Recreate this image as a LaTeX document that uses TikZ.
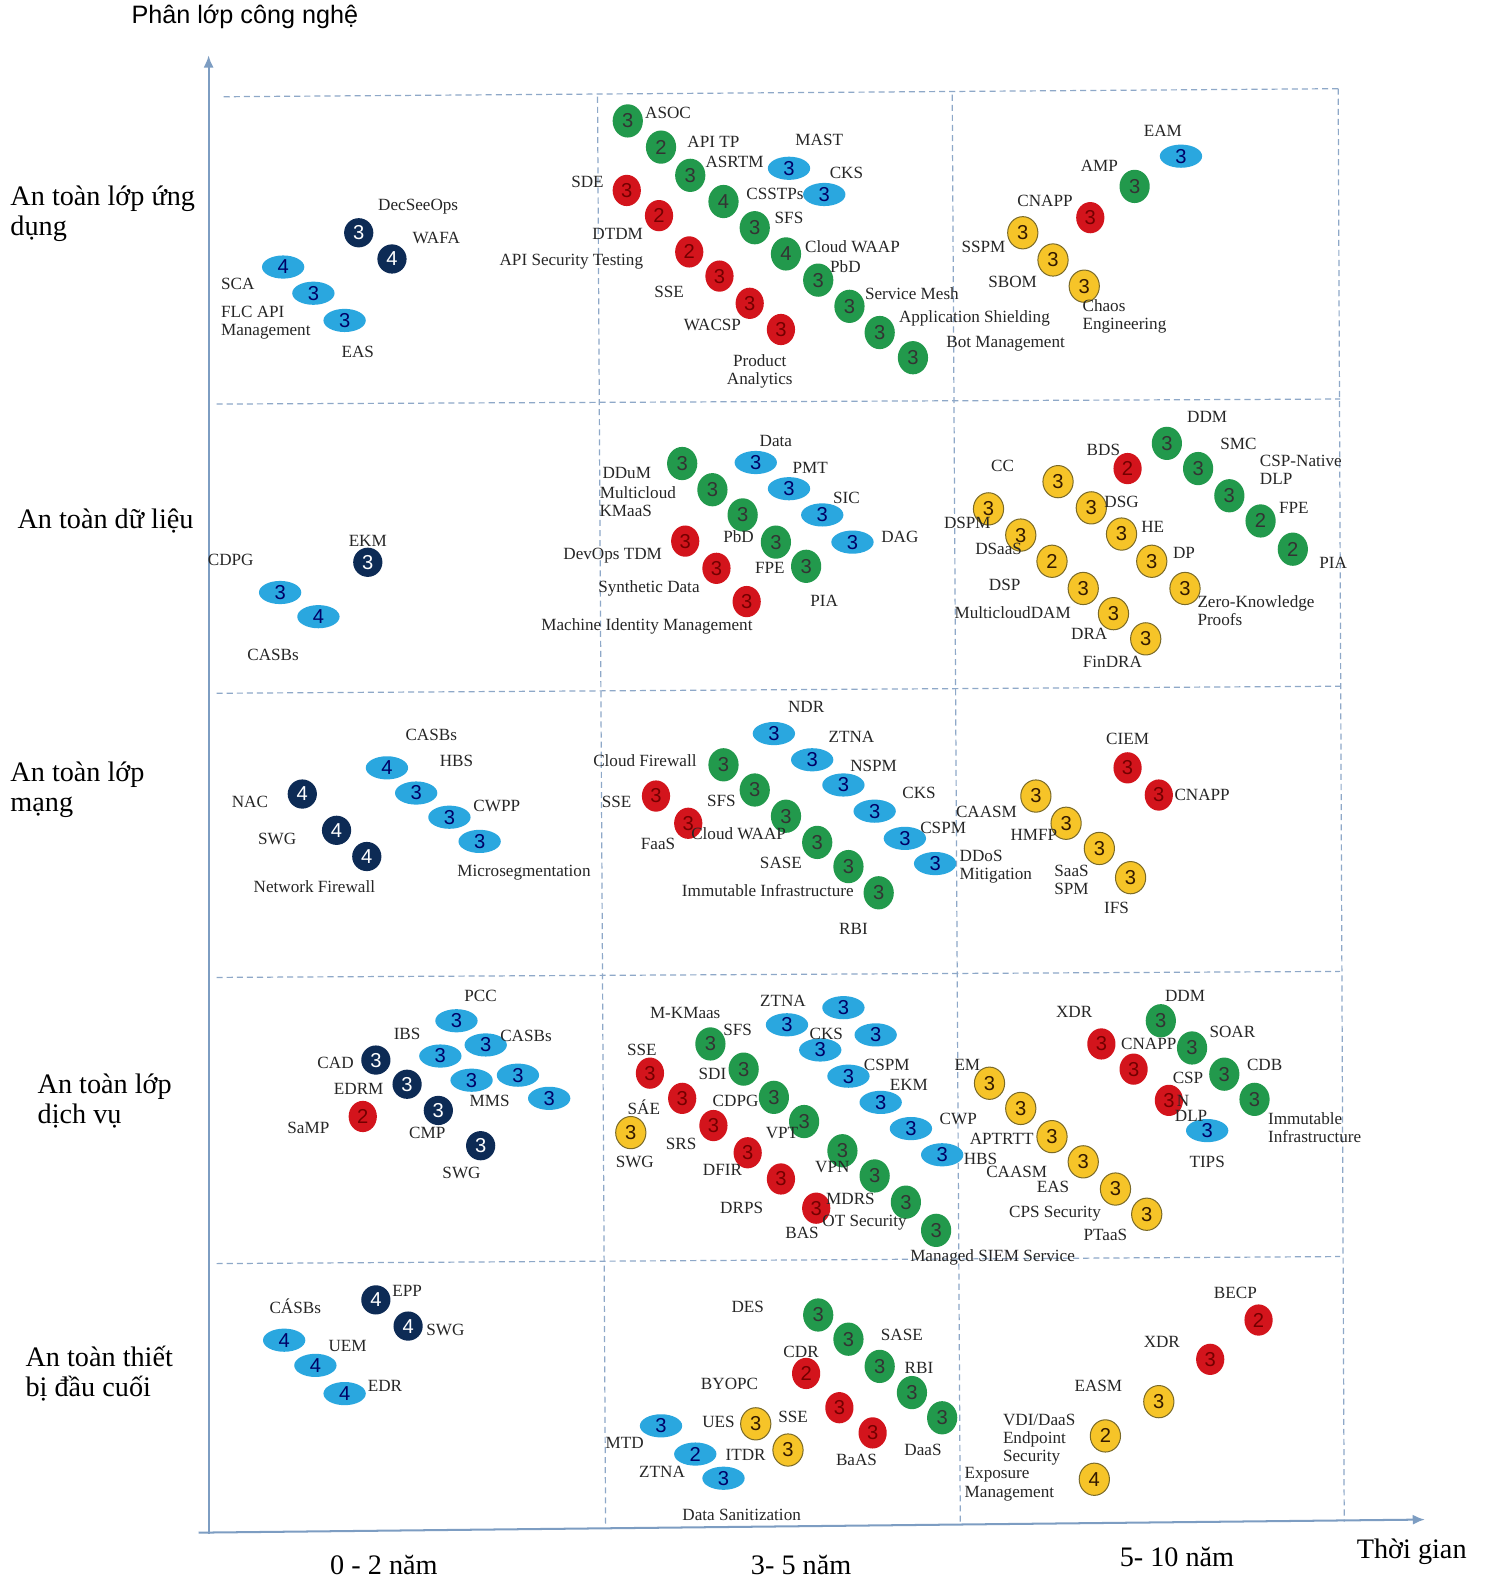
\documentclass[tikz,border=0pt]{standalone}
\usepackage{fontspec}
\setmainfont{Liberation Serif}
\newfontfamily\numfont{Liberation Sans}
\usetikzlibrary{arrows.meta, shapes.geometric}

\definecolor{bgreen}{HTML}{22994C}
\definecolor{bred}{HTML}{D3141C}
\definecolor{byellow}{HTML}{F6C428}
\definecolor{yedge}{HTML}{7A6A28}
\definecolor{bblue}{HTML}{2AA7DF}
\definecolor{bnavy}{HTML}{0D2B55}
\definecolor{gridc}{HTML}{8EA8C8}
\definecolor{axisc}{HTML}{7D9DC2}

\begin{document}
\begin{tikzpicture}[x=0.5pt, y=-0.5pt,
    lbl/.style={font=\fontsize{8.5}{9}\selectfont, text=black!85, inner sep=0pt},
    lblm/.style={lbl, align=left, anchor=west},
    rowlbl/.style={font=\fontsize{14}{15}\selectfont, align=left, anchor=west, inner sep=0pt},
    collbl/.style={font=\fontsize{14}{15}\selectfont, inner sep=0pt},
    bub/.style={ellipse, inner sep=0pt, font=\numfont\fontsize{10}{10}\selectfont},
    gb/.style={bub, fill=bgreen, text=black!80, minimum width=15pt, minimum height=16.5pt},
    rb/.style={bub, fill=bred, text=red!45!black, minimum width=14pt, minimum height=15.5pt},
    yb/.style={bub, fill=byellow, draw=yedge, line width=0.5pt, text=black!80!orange, minimum width=15pt, minimum height=16pt},
    bb/.style={bub, fill=bblue, text=blue!40!black, minimum width=21pt, minimum height=11.5pt},
    nb/.style={bub, fill=bnavy, text=white, minimum width=14.5pt, minimum height=14.5pt},
    gridln/.style={draw=gridc, line width=0.6pt, dash pattern=on 3pt off 2pt},
    axis/.style={draw=axisc, line width=1pt, -{Latex[length=6pt, width=5pt]}}]

\fill[white] (0,0) rectangle (1476,1568);
\useasboundingbox (0,0) rectangle (1476,1568);

% grid
\coordinate (h1a) at (222,96);  \coordinate (h1b) at (1330,88);
\coordinate (h2a) at (215,401); \coordinate (h2b) at (1330,396);
\coordinate (h3a) at (215,688); \coordinate (h3b) at (1330,681);
\coordinate (h4a) at (215,970); \coordinate (h4b) at (1330,964);
\coordinate (h5a) at (215,1254); \coordinate (h5b) at (1330,1247);
\coordinate (v1a) at (593,96);  \coordinate (v1b) at (601,1512);
\coordinate (v2a) at (945,94);  \coordinate (v2b) at (953,1512);
\coordinate (v3a) at (1328,88); \coordinate (v3b) at (1334,1510);
\draw[gridln] (h1a) -- (h1b);
\draw[gridln] (h2a) -- (h2b);
\draw[gridln] (h3a) -- (h3b);
\draw[gridln] (h4a) -- (h4b);
\draw[gridln] (h5a) -- (h5b);
\draw[gridln] (v1a) -- (v1b);
\draw[gridln] (v2a) -- (v2b);
\draw[gridln] (v3a) -- (v3b);

% axes
\coordinate (ybot) at (207,1522);
\coordinate (ytop) at (207,55);
\coordinate (xleft) at (197,1521);
\coordinate (xright) at (1414,1508);
\draw[axis] (ybot) -- (ytop);
\draw[axis] (xleft) -- (xright);

\node[font=\numfont\fontsize{12.5}{13}\selectfont, inner sep=0pt] (ytitle) at (243,17) {Phân lớp công nghệ};
\node[collbl] (xtitle) at (1401,1540) {Thời gian};
\node[collbl] (c1) at (381,1553) {0 - 2 năm};
\node[collbl] (c2) at (795,1553) {3- 5 năm};
\node[collbl] (c3) at (1168,1545) {5- 10 năm};

\node[rowlbl] (r1) at (10,212) {An toàn lớp ứng\\dụng};
\node[rowlbl] (r2) at (17,517) {An toàn dữ liệu};
\node[rowlbl] (r3) at (10,784) {An toàn lớp\\mạng};
\node[rowlbl] (r4) at (37,1093) {An toàn lớp\\dịch vụ};
\node[rowlbl] (r5) at (25,1363) {An toàn thiết\\bị đầu cuối};

% application layer
\foreach \x/\y/\n [count=\k] in {356/231/3, 389/257/4} \node[nb] (a1n\k) at (\x,\y) {\n};
\foreach \x/\y/\n [count=\k] in {281/265/4, 311/291/3, 342/318/3} \node[bb] (a1b\k) at (\x,\y) {\n};
\foreach \x/\y/\n [count=\k] in {623/120/3, 656/146/2, 685/174/3, 718/200/4, 749/226/3, 780/252/4, 812/278/3, 843/304/3, 873/330/3, 906/355/3} \node[gb] (a2g\k) at (\x,\y) {\n};
\foreach \x/\y/\n [count=\k] in {622/189/3, 654/214/2, 684/250/2, 714/274/3, 744/301/3, 775/327/3} \node[rb] (a2r\k) at (\x,\y) {\n};
\foreach \x/\y/\n [count=\k] in {783/167/3, 818/193/3} \node[bb] (a2b\k) at (\x,\y) {\n};
\node[bb] (a3b1) at (1172,155) {3};
\node[gb] (a3g1) at (1126,185) {3};
\node[rb] (a3r1) at (1082,216) {3};
\foreach \x/\y/\n [count=\k] in {1015/231/3, 1045/258/3, 1076/284/3} \node[yb] (a3y\k) at (\x,\y) {\n};

\foreach \x/\y/\t [count=\k] in {415/205/DecSeeOps, 433/236/WAFA, 236/282/SCA, 355/349/EAS} \node[lbl] (a1l\k) at (\x,\y) {\t};
\node[lblm] (a1m) at (219,320) {FLC API\\Management};
\foreach \x/\y/\t [count=\k] in {663/112/ASOC, 708/141/API TP, 729/161/ASRTM, 813/139/MAST, 840/172/CKS, 769/192/CSSTPs, 783/216/SFS, 846/245/Cloud WAAP, 839/265/PbD, 905/291/Service Mesh, 967/316/Application Shielding, 998/341/Bot Management, 583/181/SDE, 613/232/DTDM, 567/260/API Security Testing, 664/290/SSE, 707/322/WACSP} \node[lbl] (a2l\k) at (\x,\y) {\t};
\node[lbl, align=center] (a2m) at (754,369) {Product\\Analytics};
\foreach \x/\y/\t [count=\k] in {1154/130/EAM, 1091/165/AMP, 1037/199/CNAPP, 976/245/SSPM, 1005/280/SBOM} \node[lbl] (a3l\k) at (\x,\y) {\t};
\node[lblm] (a3m) at (1074,314) {Chaos\\Engineering};

% data layer
\node[nb] (d1n1) at (365,558) {3};
\foreach \x/\y/\n [count=\k] in {278/588/3, 316/612/4} \node[bb] (d1b\k) at (\x,\y) {\n};
\foreach \x/\y/\n [count=\k] in {677/460/3, 707/486/3, 737/511/3, 770/538/3, 800/562/3} \node[gb] (d2g\k) at (\x,\y) {\n};
\foreach \x/\y/\n [count=\k] in {750/459/3, 783/485/3, 816/511/3, 846/538/3} \node[bb] (d2b\k) at (\x,\y) {\n};
\foreach \x/\y/\n [count=\k] in {680/537/3, 711/564/3, 741/597/3} \node[rb] (d2r\k) at (\x,\y) {\n};
\foreach \x/\y/\n [count=\k] in {1158/440/3, 1189/465/3, 1220/492/3, 1251/517/2, 1283/545/2} \node[gb] (d3g\k) at (\x,\y) {\n};
\node[rb] (d3r1) at (1119,465) {2};
\foreach \x/\y/\n [count=\k] in {1050/478/3, 981/505/3, 1083/504/3, 1013/531/3, 1113/530/3, 1044/557/2, 1143/557/3, 1075/584/3, 1176/584/3, 1105/609/3, 1137/634/3} \node[yb] (d3y\k) at (\x,\y) {\n};

\foreach \x/\y/\t [count=\k] in {365/537/EKM, 229/556/CDPG, 271/650/CASBs} \node[lbl] (d1l\k) at (\x,\y) {\t};
\foreach \x/\y/\t [count=\k] in {622/469/DDuM, 770/438/Data, 633/489/Multicloud, 804/464/PMT, 621/507/KMaaS, 840/494/SIC, 608/551/DevOps TDM, 733/533/PbD, 893/533/DAG, 644/584/Synthetic Data, 764/564/FPE, 642/622/Machine Identity Management, 818/596/PIA} \node[lbl] (d2l\k) at (\x,\y) {\t};
\foreach \x/\y/\t [count=\k] in {1198/414/DDM, 1095/446/BDS, 1229/441/SMC, 1284/504/FPE, 1323/559/PIA, 995/462/CC, 960/519/DSPM, 1113/498/DSG, 991/545/DSaaS, 1144/523/HE, 997/580/DSP, 1175/549/DP, 1005/608/MulticloudDAM, 1081/629/DRA, 1104/657/FinDRA} \node[lbl] (d3l\k) at (\x,\y) {\t};
\node[lblm] (d3m1) at (1250,466) {CSP-Native\\DLP};
\node[lblm] (d3m2) at (1188,606) {Zero-Knowledge\\Proofs};

% network layer
\foreach \x/\y/\n [count=\k] in {300/788/4, 334/824/4, 364/850/4} \node[nb] (n1n\k) at (\x,\y) {\n};
\foreach \x/\y/\n [count=\k] in {384/762/4, 413/787/3, 446/811/3, 476/835/3} \node[bb] (n1b\k) at (\x,\y) {\n};
\foreach \x/\y/\n [count=\k] in {768/728/3, 806/754/3, 837/779/3, 868/805/3, 898/832/3, 928/857/3} \node[bb] (n2b\k) at (\x,\y) {\n};
\foreach \x/\y/\n [count=\k] in {718/759/3, 749/784/3, 780/810/3, 811/836/3, 842/860/3, 872/886/3} \node[gb] (n2g\k) at (\x,\y) {\n};
\foreach \x/\y/\n [count=\k] in {651/790/3, 683/817/3} \node[rb] (n2r\k) at (\x,\y) {\n};
\foreach \x/\y/\n [count=\k] in {1119/762/3, 1150/789/3} \node[rb] (n3r\k) at (\x,\y) {\n};
\foreach \x/\y/\n [count=\k] in {1028/790/3, 1058/817/3, 1091/842/3, 1122/871/3} \node[yb] (n3y\k) at (\x,\y) {\n};

\foreach \x/\y/\t [count=\k] in {248/796/NAC, 275/833/SWG, 312/880/Network Firewall, 428/729/CASBs, 453/755/HBS, 493/800/CWPP, 520/866/Microsegmentation} \node[lbl] (n1l\k) at (\x,\y) {\t};
\foreach \x/\y/\t [count=\k] in {800/702/NDR, 845/731/ZTNA, 867/760/NSPM, 912/787/CKS, 936/822/CSPM, 640/755/Cloud Firewall, 716/795/SFS, 733/827/Cloud WAAP, 775/856/SASE, 762/884/Immutable Infrastructure, 847/922/RBI, 612/796/SSE, 653/837/FaaS} \node[lbl] (n2l\k) at (\x,\y) {\t};
\node[lblm] (n2m) at (952,860) {DDoS\\Mitigation};
\foreach \x/\y/\t [count=\k] in {1119/733/CIEM, 1193/789/CNAPP, 979/806/CAASM, 1026/829/HMFP, 1108/901/IFS} \node[lbl] (n3l\k) at (\x,\y) {\t};
\node[lblm] (n3m) at (1046,873) {SaaS\\SPM};

% service layer
\foreach \x/\y/\n [count=\k] in {453/1013/3, 482/1037/3, 437/1048/3, 468/1072/3, 514/1067/3, 545/1090/3} \node[bb] (s1b\k) at (\x,\y) {\n};
\foreach \x/\y/\n [count=\k] in {373/1052/3, 404/1076/3, 435/1102/3, 477/1137/3} \node[nb] (s1n\k) at (\x,\y) {\n};
\node[rb] (s1r1) at (360,1108) {2};
\foreach \x/\y/\n [count=\k] in {837/1000/3, 781/1017/3, 869/1027/3, 814/1042/3, 842/1068/3, 874/1094/3, 904/1120/3, 935/1146/3} \node[bb] (s2b\k) at (\x,\y) {\n};
\foreach \x/\y/\n [count=\k] in {705/1036/3, 738/1061/3, 768/1089/3, 798/1113/3, 836/1142/3, 868/1167/3, 899/1193/3, 929/1221/3} \node[gb] (s2g\k) at (\x,\y) {\n};
\foreach \x/\y/\n [count=\k] in {645/1065/3, 677/1090/3, 708/1117/3, 742/1144/3, 775/1170/3, 810/1199/3} \node[rb] (s2r\k) at (\x,\y) {\n};
\node[yb] (s2y1) at (626,1124) {3};
\foreach \x/\y/\n [count=\k] in {1152/1013/3, 1183/1040/3, 1215/1066/3, 1245/1091/3} \node[gb] (s3g\k) at (\x,\y) {\n};
\foreach \x/\y/\n [count=\k] in {1093/1036/3, 1125/1061/3, 1160/1092/3} \node[rb] (s3r\k) at (\x,\y) {\n};
\node[bb] (s3b1) at (1198,1122) {3};
\foreach \x/\y/\n [count=\k] in {982/1075/3, 1013/1100/3, 1044/1128/3, 1075/1153/3, 1107/1180/3, 1138/1205/3} \node[yb] (s3y\k) at (\x,\y) {\n};

\foreach \x/\y/\t [count=\k] in {477/988/PCC, 522/1028/CASBs, 404/1026/IBS, 333/1055/CAD, 356/1081/EDRM, 424/1124/CMP, 458/1164/SWG, 306/1119/SaMP, 486/1093/MMS} \node[lbl] (s1l\k) at (\x,\y) {\t};
\foreach \x/\y/\t [count=\k] in {777/993/ZTNA, 680/1005/M-KMaas, 732/1022/SFS, 820/1026/CKS, 880/1057/CSPM, 902/1077/EKM, 951/1110/CWP, 707/1066/SDI, 730/1093/CDPG, 776/1124/VPT, 826/1158/VPN, 844/1190/MDRS, 858/1213/OT Security, 985/1248/Managed SIEM Service, 637/1042/SSE, 639/1099/SÁE, 676/1135/SRS, 717/1161/DFIR, 736/1199/DRPS, 796/1224/BAS, 630/1153/SWG} \node[lbl] (s2l\k) at (\x,\y) {\t};
\foreach \x/\y/\t [count=\k] in {1176/988/DDM, 1223/1024/SOAR, 1255/1057/CDB, 1066/1004/XDR, 1140/1036/CNAPP, 1179/1070/CSP, 1174/1093/N, 1182/1107/DLP, 1198/1153/TIPS, 960/1057/EM, 973/1150/HBS, 994/1130/APTRTT, 1009/1163/CAASM, 1045/1178/EAS, 1047/1204/CPS Security, 1097/1226/PTaaS} \node[lbl] (s3l\k) at (\x,\y) {\t};
\node[lblm] (s3m) at (1258,1119) {Immutable\\Infrastructure};

% endpoint layer
\foreach \x/\y/\n [count=\k] in {373/1290/4, 405/1316/4} \node[nb] (e1n\k) at (\x,\y) {\n};
\foreach \x/\y/\n [count=\k] in {282/1330/4, 313/1355/4, 342/1383/4} \node[bb] (e1b\k) at (\x,\y) {\n};
\foreach \x/\y/\n [count=\k] in {812/1305/3, 842/1329/3, 873/1356/3, 905/1382/3, 935/1407/3} \node[gb] (e2g\k) at (\x,\y) {\n};
\foreach \x/\y/\n [count=\k] in {800/1363/2, 833/1397/3, 866/1422/3} \node[rb] (e2r\k) at (\x,\y) {\n};
\foreach \x/\y/\n [count=\k] in {750/1413/3, 782/1439/3} \node[yb] (e2y\k) at (\x,\y) {\n};
\foreach \x/\y/\n [count=\k] in {656/1415/3, 690/1443/2, 718/1467/3} \node[bb] (e2b\k) at (\x,\y) {\n};
\foreach \x/\y/\n [count=\k] in {1249/1310/2, 1201/1349/3} \node[rb] (e3r\k) at (\x,\y) {\n};
\foreach \x/\y/\n [count=\k] in {1150/1391/3, 1097/1425/2, 1086/1468/4} \node[yb] (e3y\k) at (\x,\y) {\n};

\foreach \x/\y/\t [count=\k] in {404/1281/EPP, 442/1320/SWG, 293/1296/CÁSBs, 345/1336/UEM, 382/1375/EDR} \node[lbl] (e1l\k) at (\x,\y) {\t};
\foreach \x/\y/\t [count=\k] in {742/1297/DES, 895/1325/SASE, 912/1358/RBI, 916/1439/DaaS, 795/1342/CDR, 850/1449/BaAS, 724/1373/BYOPC, 713/1411/UES, 787/1406/SSE, 740/1444/ITDR, 620/1432/MTD, 657/1461/ZTNA, 736/1503/Data Sanitization} \node[lbl] (e2l\k) at (\x,\y) {\t};
\foreach \x/\y/\t [count=\k] in {1226/1283/BECP, 1153/1332/XDR, 1090/1375/EASM} \node[lbl] (e3l\k) at (\x,\y) {\t};
\node[lblm] (e3m1) at (995,1429) {VDI/DaaS\\Endpoint\\Security};
\node[lblm] (e3m2) at (957,1473) {Exposure\\Management};
\end{tikzpicture}
\end{document}
